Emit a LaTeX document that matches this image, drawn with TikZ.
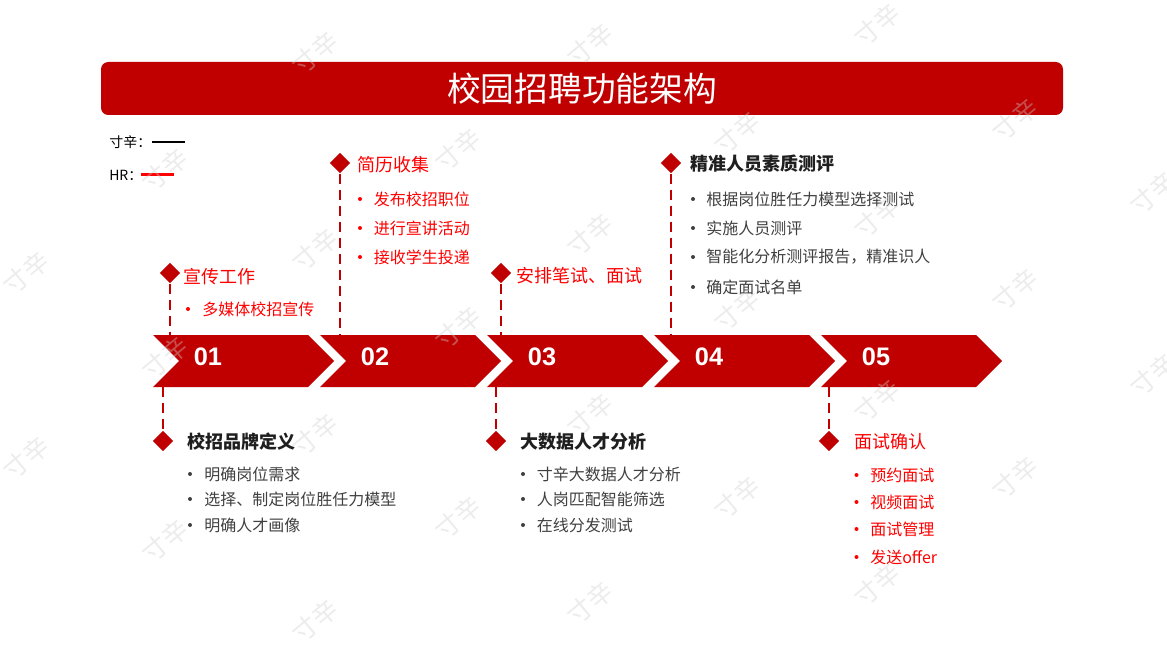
\documentclass[tikz,border=0pt]{standalone}
\usepackage{fontspec}
\usetikzlibrary{shapes.geometric}
\setmainfont{Noto Sans CJK SC}
\newfontfamily\numfont{Liberation Sans}
\definecolor{dred}{HTML}{C00000}
\definecolor{bred}{HTML}{FF0000}
\definecolor{tgrey}{HTML}{404040}
\definecolor{hblack}{HTML}{1F1F1F}
\definecolor{wm}{HTML}{CFCFCF}
\begin{document}
\begin{tikzpicture}[x=0.75pt,y=-0.75pt,
 chev/.style={fill=dred, draw=none},
 dia/.style={diamond, fill=dred, draw=none, inner sep=0pt, minimum width=15.5pt, minimum height=15.5pt},
 conn/.style={draw=dred, line width=1.9pt, dash pattern=on 7.5pt off 4.5pt},
 head/.style={anchor=west, inner sep=0pt, font=\fontsize{13.5}{16}\selectfont},
 rhead/.style={head, text=bred},
 bhead/.style={head, text=hblack, font=\fontsize{13.5}{16}\selectfont\bfseries},
 item/.style={anchor=west, inner sep=0pt, font=\fontsize{12}{14}\selectfont},
 ritem/.style={item, text=bred},
 gitem/.style={item, text=tgrey},
 num/.style={text=white, inner sep=0pt, font=\numfont\bfseries\fontsize{19}{22}\selectfont},
 wmark/.style={text=wm, text opacity=0.38, rotate=40, inner sep=0pt, font=\fontsize{19}{22}\selectfont}
]
\useasboundingbox (0,0) rectangle (1167,656);
\fill[white] (0,0) rectangle (1167,656);

% title
\fill[dred, rounded corners=5.5pt] (101,62) rectangle (1063,115);
\node[text=white, inner sep=0pt, font=\fontsize{25.3}{28}\selectfont] (title) at (582,88.5) {校园招聘功能架构};

% legend
\node[anchor=west, inner sep=0pt, font=\fontsize{10.5}{12}\selectfont] (lg1) at (109,142) {寸辛：};
\coordinate (lg1a) at (152,142);
\coordinate (lg1b) at (185,142);
\draw[black, line width=1.6pt] (lg1a) -- (lg1b);
\node[anchor=west, inner sep=0pt, font=\fontsize{10.5}{12}\selectfont] (lg2) at (109,175) {HR：};
\coordinate (lg2a) at (141,174.5);
\coordinate (lg2b) at (174,174.5);
\draw[bred, line width=1.6pt] (lg2a) -- (lg2b);

% chevrons
\foreach \L/\n in {153/1,320/2,487/3,654/4,821/5}{
  \fill[chev] (\L,335) -- (\L+155,335) -- (\L+181,361) -- (\L+155,387) -- (\L,387) -- (\L+26,361) -- cycle;
}
\node[num] (n1) at (208,357) {01};
\node[num] (n2) at (375,357) {02};
\node[num] (n3) at (542,357) {03};
\node[num] (n4) at (709,357) {04};
\node[num] (n5) at (876,357) {05};

% connector end points on chevrons
\coordinate (t1) at (170,335);
\coordinate (t2) at (340,335);
\coordinate (t3) at (501,335);
\coordinate (t4) at (671,335);
\coordinate (b1) at (163,387);
\coordinate (b3) at (496,387);
\coordinate (b5) at (829,387);

% diamonds
\node[dia] (d1) at (170,273) {};
\node[dia] (d2) at (340,163) {};
\node[dia] (d3) at (501,273) {};
\node[dia] (d4) at (671,163) {};
\node[dia] (e1) at (163,441) {};
\node[dia] (e3) at (496,441) {};
\node[dia] (e5) at (829,441) {};

% connectors
\draw[conn] (d1.south) -- (t1);
\draw[conn] (d2.south) -- (t2);
\draw[conn] (d3.south) -- (t3);
\draw[conn] (d4.south) -- (t4);
\draw[conn] (b1) -- (e1.north);
\draw[conn] (b3) -- (e3.north);
\draw[conn] (b5) -- (e5.north);

% top texts
\node[rhead] (h1) at (183.5,277) {宣传工作};
\fill[bred] (188,309) circle (1.5pt);
\node[ritem] (h1a) at (202,309) {多媒体校招宣传};

\node[rhead] (h2) at (357.5,165) {简历收集};
\fill[bred] (360,199) circle (1.5pt);
\fill[bred] (360,228) circle (1.5pt);
\fill[bred] (360,257) circle (1.5pt);
\node[ritem] (h2a) at (373.5,199) {发布校招职位};
\node[ritem] (h2b) at (373.5,228) {进行宣讲活动};
\node[ritem] (h2c) at (373.5,257) {接收学生投递};

\node[rhead] (h3) at (516.5,276) {安排笔试、面试};

\node[bhead] (h4) at (690,164) {精准人员素质测评};
\fill[tgrey] (693,199) circle (1.5pt);
\fill[tgrey] (693,228) circle (1.5pt);
\fill[tgrey] (693,257) circle (1.5pt);
\fill[tgrey] (693,287) circle (1.5pt);
\node[gitem] (h4a) at (706,199) {根据岗位胜任力模型选择测试};
\node[gitem] (h4b) at (706,228) {实施人员测评};
\node[gitem] (h4c) at (706,257) {智能化分析测评报告，精准识人};
\node[gitem] (h4d) at (706,287) {确定面试名单};

% bottom texts
\node[bhead] (g1) at (187,442) {校招品牌定义};
\fill[tgrey] (190,474) circle (1.5pt);
\fill[tgrey] (190,499) circle (1.5pt);
\fill[tgrey] (190,525) circle (1.5pt);
\node[gitem] (g1a) at (204,474) {明确岗位需求};
\node[gitem] (g1b) at (204,499) {选择、制定岗位胜任力模型};
\node[gitem] (g1c) at (204,525) {明确人才画像};

\node[bhead] (g3) at (520.5,442) {大数据人才分析};
\fill[tgrey] (523,474) circle (1.5pt);
\fill[tgrey] (523,499) circle (1.5pt);
\fill[tgrey] (523,525) circle (1.5pt);
\node[gitem] (g3a) at (536.5,474) {寸辛大数据人才分析};
\node[gitem] (g3b) at (536.5,499) {人岗匹配智能筛选};
\node[gitem] (g3c) at (536.5,525) {在线分发测试};

\node[rhead] (g5) at (854,442) {面试确认};
\fill[bred] (856.5,475) circle (1.5pt);
\fill[bred] (856.5,502) circle (1.5pt);
\fill[bred] (856.5,529) circle (1.5pt);
\fill[bred] (856.5,557) circle (1.5pt);
\node[ritem] (g5a) at (870,475) {预约面试};
\node[ritem] (g5b) at (870,502) {视频面试};
\node[ritem] (g5c) at (870,529) {面试管理};
\node[ritem] (g5d) at (870,557) {发送offer};

% watermarks
\foreach \wx/\wy in {26/273, 26/458,
  165/170, 165/358, 165/541,
  315/53, 315/250, 315/435, 315/621,
  458/150, 458/328, 458/518,
  590/45, 590/235, 590/415, 590/603,
  737/133, 737/310, 737/498,
  877/25, 877/217, 877/401, 877/585,
  1015/120, 1015/290, 1015/478,
  1153/193, 1153/375}{
  \node[wmark] at (\wx,\wy) {寸辛};
}
\end{tikzpicture}
\end{document}
